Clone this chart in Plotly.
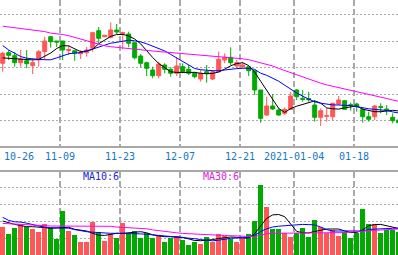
import plotly.graph_objects as go

# ---------------- data (arbitrary price/volume units) ----------------
dates = ["10-26","10-27","10-28","10-29","10-30","11-02","11-03","11-04","11-05","11-06",
         "11-09","11-10","11-11","11-12","11-13","11-16","11-17","11-18","11-19","11-20",
         "11-23","11-24","11-25","11-26","11-27","11-30","12-01","12-02","12-03","12-04",
         "12-07","12-08","12-09","12-10","12-11","12-14","12-15","12-16","12-17","12-18",
         "12-21","12-22","12-23","12-24","12-25","12-28","12-29","12-30","12-31",
         "2021-01-04","01-05","01-06","01-07","01-08","01-11","01-12","01-13","01-14","01-15",
         "01-18","01-19","01-20","01-21","01-22","01-25","01-26","01-27"]

open_ = [83.7,94.3,91.3,84.3,86.3,81.3,87,95.3,110.3,106,
         106,96.5,96.3,93.3,94.3,98.7,116.3,110.3,109.7,117,
         113,113,104.3,91,84.3,77,71.3,82,77.7,73.7,
         80.3,77.7,73.7,68,75.3,68,75.3,87,89.7,81,
         80.3,80.3,76.3,57,32,41,37,33.7,37.7,
         57,48.7,48.3,42,29.7,30.7,30.3,43,46.3,42.3,
         43,37.7,30.3,30.3,40.3,38,29.7,27]
high = [95.3,97,95,97,97,88,97,110.3,111,106,
        106,102,96.3,97,100,115.3,120,112,124.7,123,
        115.3,115.3,105.3,93,85.3,80.3,85.3,83.7,79.7,89.7,
        83.7,82,75.3,77,82,77,95.3,93.7,99.7,87,
        85.3,80.3,76.3,57,50.3,53,38.7,39.7,55.3,
        57.7,57,55.3,47,38.7,38.7,43.7,51,47,44.3,
        44.3,38.7,35.3,42,43.7,42,33.7,28]
low = [75.3,87,80.3,80.3,79,73,80.3,87,99.3,100,
       87,92,86.3,88,90.3,95.3,104,109.7,108.7,113,
       97.7,99.7,87.7,79.7,71,68.7,68.7,73.7,70.3,71,
       73.7,72,68.7,65.3,64.3,67,74.3,83.7,82,78.7,
       78.7,71,52,24.3,31.3,37,31.3,32,37,
       47,45.3,45.3,25.3,21,25.3,26.3,42,37.7,36.3,
       35.3,24.3,25.3,27,33.7,32,23.7,23]
close = [93.7,91.7,84.3,88,83.3,84.3,95.3,106,105.3,105,
         97,97.5,93.7,94.3,97,114.3,108.7,111.7,117,115,
         114.3,103.7,89.3,83.7,78.7,71.3,83,77.7,73.7,81,
         75.3,73.7,70.3,73.7,73.7,75.3,87.7,89.7,84.3,84.3,
         82,76.3,57,28.7,41,38,32,37.7,51,
         50.3,47.7,47.3,29.7,36.3,31.3,43.7,47,37.7,41.7,
         40.3,30.3,27.7,41,39.7,37,26.3,24.3]

ma5 = [89.1,88.6,88.1,87.7,87.3,87.1,87.6,90.4,94,98.5,
       101.4,101.1,98,95.3,96,97.7,103.2,107.3,110.6,112.5,
       112.6,111,108,103.1,96.1,89.5,83.5,79,75.2,74.6,
       74.5,75.1,74.6,73.7,73.2,73.6,75,77.9,81.2,83.5,
       84.3,81.4,74.8,65.7,56.5,47.3,38.6,34.6,38.4,
       40.8,42.8,44.8,46.1,43.9,39.1,38.2,37.9,39.2,40.2,
       41,37.8,36.3,35.3,35.3,35.7,36.7,36]
ma10 = [101.5,97,93.7,90.5,88.8,87.9,87.6,87.3,87.2,89.1,
        91.1,93.2,94,94.4,96,98,100.4,102.5,103.8,104.7,
        105.7,106.8,106.2,105.1,103.2,101,98.7,96.1,92.6,89,
        85.3,81.3,78.5,77.3,76.7,76.3,76.3,77.1,78,78.4,
        78.7,78.7,77.6,73.8,71.7,69.1,65.8,61.8,57.6,
        54,50.8,47.9,45.2,43.8,42.7,42.1,42,42,41.3,
        40.4,39,38.2,37.7,37.2,36.5,35.1,34]
ma30 = [120.8,120,119.2,118.4,117.8,117.2,116.7,115.4,113.9,113.3,
        112.5,111.3,109.6,107.9,106.2,104.5,102.5,101.2,100.3,99.8,
        99.1,98.2,97.6,97.1,96.6,96,95.5,95,94.5,94,
        93.4,92.8,92.2,91.8,91.5,91.2,90.9,90.2,89.6,89,
        88.2,87.3,85.9,84.4,82.9,81,78.6,76.4,74.7,
        72.6,70.2,67.6,65.6,63.8,62.1,60.8,59.4,58.1,56.9,
        55.6,54.3,52.6,51.1,49.9,48.5,47,45.7]

volume = [28.3,21,26.7,30.7,28.3,26,23.3,30.7,26.7,16,
          44,24,20,13,13,33,23.3,14,21,16.7,
          31.7,20.7,24,17.3,21.7,17.3,19.3,12.7,17.3,19.3,
          15,10,12.7,11,18.3,12.7,21,19.3,16,12.7,
          16,21,34,70,48.3,26,26,21.7,18.3,
          21.7,27.3,18.3,35,28.3,21.7,25,19.3,23.3,17.3,
          21.7,46,30.7,30.7,21.7,25,25,23.3]
vol_ma5 = [34,32.2,30.6,29.4,28.3,28.3,28.1,27.4,26.7,27.1,
           27.7,27.7,25.7,24.6,24,21.7,19.8,19.6,21,21.7,
           21.7,22.2,23.3,23.3,22.2,20.2,19.1,18.3,18.3,18.3,
           17.6,16.1,14.5,14.3,14.7,15.4,16.5,17.4,18,17.7,
           16.8,17.2,21.3,29.1,36.6,40.1,40.5,38.3,31.1,
           23.6,22.3,22.1,23.5,24.8,26,26,26,24.1,22.4,
           22.5,25.1,29.3,30.4,30.6,29.2,27.5,26.5]
vol_ma10 = [37.7,34.6,33.2,32.9,31.8,30.2,28.8,27.7,27.3,27.3,
            27.3,26.8,25.4,24,23.3,22.8,22.3,21.8,21.7,21.7,
            21.7,21.7,21.6,21.1,20.7,20.2,19.7,19.2,18.9,18.5,
            17.9,17,16.3,15.4,14.5,14.2,14.8,15.8,16.7,17,
            17.2,17.8,19.5,23.5,26.2,28,28.8,29.4,30,
            30.5,30.6,30.4,30.1,28,25.4,24,24,23.7,23.3,
            23.3,24,25.6,26,26,26.3,26.7,26.8]
vol_ma30 = [31.6,31.2,30.8,30.5,30.3,30,29.7,29.3,29,29,
            29,29,29,29,29,29,29,29,28.7,28,
            27.7,27.4,27.1,26.8,26.2,25.1,24.2,23.3,22.8,22.2,
            21.6,21.2,20.8,20.5,20.2,20,19.7,19.5,19.3,19,
            18.7,18.3,18.3,20,21.4,21.7,21.7,21.7,21.7,
            21.7,21.7,21.7,21.8,21.9,22,22.1,22.2,22.4,23,
            23.6,24.1,24.4,24.7,25,25.3,25.7,26]

tick_dates = ["10-26", "11-09", "11-23", "12-07", "12-21", "2021-01-04", "01-18"]
price_grid = [26.7, 53, 79.5, 106, 132.2]
volume_grid = [17, 33.7, 50.5, 67.3]
legend_labels = ["MA10:6", "MA30:6"]

# ---------------- styling ----------------
UP = "#ff5757"
DOWN = "#00aa00"
GRID = "#aaaaaa"
W, H = 398, 255

idx = list(range(len(dates)))
tick_idx = [dates.index(d) for d in tick_dates]
tick_pos = [i - 0.45 for i in tick_idx]
bar_colors = [UP if c > o else DOWN for o, c in zip(open_, close)]

fig = go.Figure()
fig.add_trace(go.Candlestick(
    x=idx, open=open_, high=high, low=low, close=close,
    increasing=dict(line=dict(color=UP, width=1), fillcolor=UP),
    decreasing=dict(line=dict(color=DOWN, width=1), fillcolor=DOWN),
    whiskerwidth=0, xaxis="x", yaxis="y", hoverinfo="skip"))
for series, col in [(ma5, "#000000"), (ma10, "#0000ff"), (ma30, "#ff00ff")]:
    fig.add_trace(go.Scatter(x=idx, y=series, mode="lines",
                             line=dict(color=col, width=1), xaxis="x", yaxis="y",
                             hoverinfo="skip"))

fig.add_trace(go.Bar(x=idx, y=volume, width=0.8, marker=dict(color=bar_colors, line=dict(width=0)),
                     xaxis="x2", yaxis="y2", hoverinfo="skip"))
for series, col in [(vol_ma5, "#000000"), (vol_ma10, "#0000ff"), (vol_ma30, "#ff00ff")]:
    fig.add_trace(go.Scatter(x=idx, y=series, mode="lines",
                             line=dict(color=col, width=1), xaxis="x2", yaxis="y2",
                             hoverinfo="skip"))

xr = [-0.45, W / 6 - 0.45]
price_bottom_px = 146
vol_top_px = 172
common_x = dict(range=xr, tickmode="array", tickvals=tick_pos, showticklabels=False,
                showgrid=True, gridcolor=GRID, gridwidth=2, griddash="6px,3px",
                zeroline=False, ticks="", showline=True, linecolor="#a8a8a8", linewidth=2,
                fixedrange=True)
fig.update_layout(
    width=W, height=H, margin=dict(l=0, r=0, t=0, b=0),
    paper_bgcolor="white", plot_bgcolor="white", showlegend=False,
    xaxis=dict(common_x, anchor="y", rangeslider=dict(visible=False)),
    xaxis2=dict(common_x, anchor="y2", matches="x", side="top"),
    yaxis=dict(domain=[(H - price_bottom_px) / H, 1], range=[H - price_bottom_px - 108, 147],
               tickmode="array", tickvals=price_grid, showticklabels=False,
               showgrid=True, gridcolor=GRID, gridwidth=1, griddash="2px,2px",
               zeroline=False, showline=False, fixedrange=True),
    yaxis2=dict(domain=[0, (H - vol_top_px) / H], range=[0, H - vol_top_px],
                tickmode="array", tickvals=volume_grid, showticklabels=False,
                showgrid=True, gridcolor=GRID, gridwidth=1, griddash="2px,2px",
                zeroline=False, showline=False, fixedrange=True),
    bargap=0,
    boxgap=0.2,
    boxgroupgap=0.17,
)

label_y = (H - 156.5) / H
for k, (pos, txt) in enumerate(zip(tick_pos, tick_dates)):
    fig.add_annotation(x=pos if k else 0, y=label_y, xref="x", yref="paper", text=txt,
                       showarrow=False, xanchor="left" if k == 0 else "center", yanchor="middle",
                       font=dict(family="DejaVu Sans Mono", size=10, color="#1677c9"),
                       borderpad=0)

for txt, xp, col in zip(legend_labels, [100.5 / W, 220.5 / W], ["#2222dd", "#dd22dd"]):
    fig.add_annotation(x=xp, y=(H - 176.5) / H, xref="paper", yref="paper", text=txt,
                       showarrow=False, xanchor="center", yanchor="middle",
                       font=dict(family="DejaVu Sans Mono", size=10, color=col), borderpad=0)

fig.write_html("out.html", config={"displayModeBar": False})
